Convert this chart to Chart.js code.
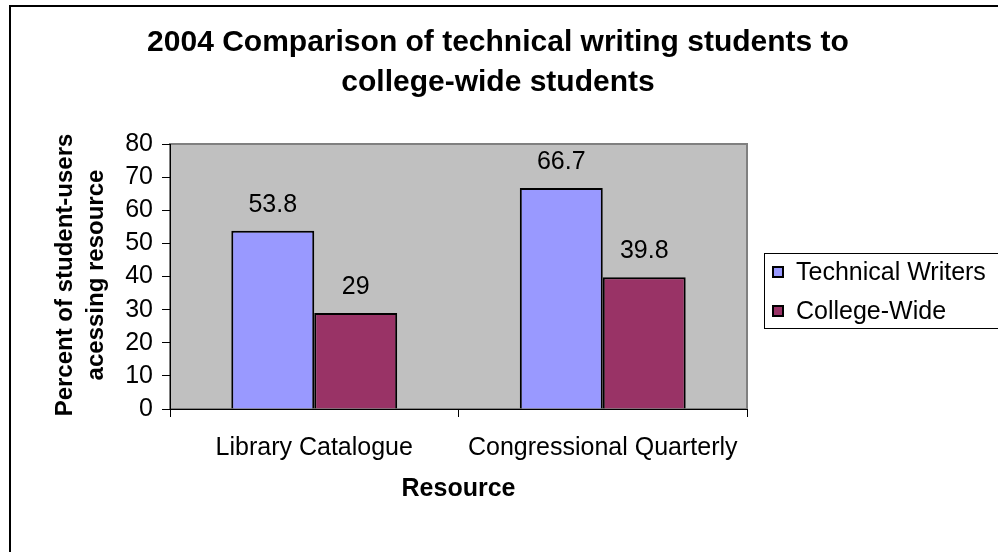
<!DOCTYPE html>
<html lang="en">
<head>
  <meta charset="UTF-8">
  <title>2004 Comparison of technical writing students</title>
  <script src="https://cdn.jsdelivr.net/npm/chart.js"></script>
  <style>
    body { margin: 0; padding: 0; background: #ffffff; }
    #wrap { width: 998px; height: 552px; position: relative; }
  </style>
</head>
<body>
<div id="wrap"><canvas id="chart" width="998" height="552"></canvas></div>

<script>
  // data
  const resources = ['Library Catalogue', 'Congressional Quarterly'];
  const technicalWriters = [53.8, 66.7];
  const collegeWide = [29, 39.8];
  const yTicks = [0, 10, 20, 30, 40, 50, 60, 70, 80];

  const titleLines = ['2004 Comparison of technical writing students to', 'college-wide students'];
  const yTitleLines = ['Percent of student-users', 'acessing resource'];
  const xTitle = 'Resource';

  const FONT = '"Liberation Sans", Arial, sans-serif';

  // frame, plot background, titles, value labels, legend
  const excelLook = {
    id: 'excelLook',
    beforeDraw(chart) {
      const ctx = chart.ctx;
      const a = chart.chartArea;
      ctx.save();
      ctx.fillStyle = '#ffffff';
      ctx.fillRect(0, 0, chart.width, chart.height);
      // outer chart border
      ctx.strokeStyle = '#000000';
      ctx.lineWidth = 2;
      ctx.strokeRect(10, 6, chart.width + 20, chart.height + 20);
      // plot area
      ctx.fillStyle = '#c0c0c0';
      ctx.fillRect(a.left, a.top, a.right - a.left, a.bottom - a.top);
      ctx.strokeStyle = '#808080';
      ctx.lineWidth = 2;
      ctx.strokeRect(a.left, a.top, a.right - a.left, a.bottom - a.top);
      ctx.restore();
    },
    afterDraw(chart) {
      const ctx = chart.ctx;
      const a = chart.chartArea;
      ctx.save();
      ctx.fillStyle = '#000000';
      ctx.textAlign = 'center';
      ctx.textBaseline = 'middle';

      // chart title
      ctx.font = 'bold 30px ' + FONT;
      titleLines.forEach((t, i) => ctx.fillText(t, 498, 43 + i * 40));

      // axis titles
      ctx.font = 'bold 25px ' + FONT;
      ctx.fillText(xTitle, (a.left + a.right) / 2, 489);
      ctx.font = 'bold 24px ' + FONT;
      ctx.save();
      ctx.translate(65, 275);
      ctx.rotate(-Math.PI / 2);
      yTitleLines.forEach((t, i) => ctx.fillText(t, 0, i * 31));
      ctx.restore();

      // value labels above bars
      ctx.font = '25px ' + FONT;
      chart.data.datasets.forEach((ds, di) => {
        const meta = chart.getDatasetMeta(di);
        meta.data.forEach((bar, i) => {
          ctx.fillText(String(ds.data[i]), bar.x, bar.y - 26);
        });
      });

      // legend
      const lx = 764, ly = 253;
      ctx.fillStyle = '#ffffff';
      ctx.fillRect(lx, ly, 260, 75);
      ctx.strokeStyle = '#000000';
      ctx.lineWidth = 1;
      ctx.strokeRect(lx + 0.5, ly + 0.5, 260, 75);
      ctx.font = '25px ' + FONT;
      ctx.textAlign = 'left';
      chart.data.datasets.forEach((ds, i) => {
        const cy = ly + 19 + i * 39;
        ctx.fillStyle = ds.backgroundColor;
        ctx.fillRect(lx + 9, cy - 5, 10, 10);
        ctx.strokeStyle = '#000000';
        ctx.lineWidth = 2;
        ctx.strokeRect(lx + 9, cy - 5, 10, 10);
        ctx.fillStyle = '#000000';
        ctx.fillText(ds.label, lx + 32, cy + 1);
      });
      ctx.restore();
    }
  };

  new Chart(document.getElementById('chart'), {
    type: 'bar',
    data: {
      labels: resources,
      datasets: [
        {
          label: 'Technical Writers',
          data: technicalWriters,
          backgroundColor: '#9999ff',
          borderColor: '#000000',
          borderWidth: 2
        },
        {
          label: 'College-Wide',
          data: collegeWide,
          backgroundColor: '#993366',
          borderColor: '#000000',
          borderWidth: 2
        }
      ]
    },
    options: {
      responsive: false,
      animation: false,
      events: [],
      layout: { padding: { left: 0, top: 144, right: 251, bottom: 0 } },
      plugins: {
        legend: { display: false },
        title: { display: false },
        tooltip: { enabled: false }
      },
      datasets: {
        bar: { categoryPercentage: 0.575, barPercentage: 1.0 }
      },
      scales: {
        x: {
          afterFit(scale) { scale.height = 143; },
          grid: {
            offset: true,
            drawOnChartArea: false,
            color: '#000000',
            tickLength: 8,
            tickWidth: 1
          },
          border: { color: '#000000', width: 1 },
          ticks: {
            color: '#000000',
            font: { family: FONT, size: 25 },
            padding: 16,
            maxRotation: 0,
            autoSkip: false
          }
        },
        y: {
          min: 0,
          max: 80,
          afterFit(scale) { scale.width = 170; },
          afterBuildTicks(scale) { scale.ticks = yTicks.map(v => ({ value: v })); },
          grid: {
            drawOnChartArea: false,
            color: '#000000',
            tickLength: 8
          },
          border: { color: '#000000', width: 1 },
          ticks: {
            color: '#000000',
            font: { family: FONT, size: 25 },
            padding: 9
          }
        }
      }
    },
    plugins: [excelLook]
  });
</script>
</body>
</html>
